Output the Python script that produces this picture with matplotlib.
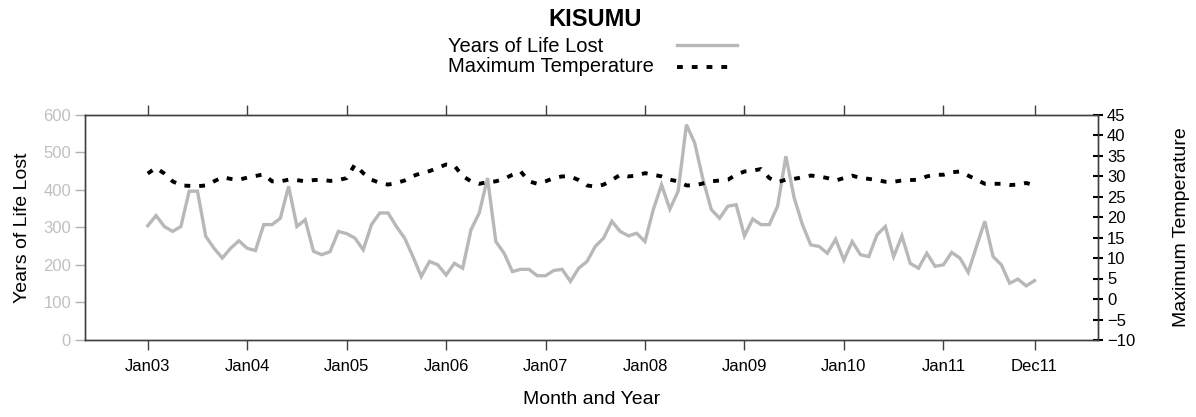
import matplotlib
matplotlib.use("Agg")
import matplotlib.pyplot as plt
from matplotlib.lines import Line2D
import numpy as np

plt.rcParams['font.family'] = ['Liberation Sans', 'DejaVu Sans']

# Monthly series Jan 2003 - Dec 2011
yll = [304, 331, 302, 289, 302, 396, 396, 276, 244, 218, 244, 264,
       244, 238, 307, 307, 324, 409, 302, 320, 236, 227, 235, 289,
       283, 271, 240, 307, 338, 338, 302, 271, 222, 169, 209, 200,
       173, 204, 191, 293, 338, 431, 262, 231, 182, 188, 188, 171,
       171, 185, 188, 156, 191, 209, 249, 271, 316, 289, 277, 284,
       262, 347, 413, 348, 396, 573, 524, 427, 347, 324, 356, 360,
       277, 322, 307, 307, 356, 489, 378, 307, 253, 249, 231, 268,
       213, 262, 227, 222, 280, 302, 222, 277, 204, 191, 231, 196,
       200, 233, 218, 180, 249, 316, 222, 200, 151, 162, 144, 158]

tmax = [30.6, 32.0, 30.6, 28.7, 27.7, 27.6, 27.5, 27.7, 28.7, 29.7, 29.3, 29.1,
        29.6, 30.0, 30.4, 28.7, 28.7, 29.1, 29.0, 28.7, 29.0, 29.1, 28.8, 29.0,
        29.5, 32.8, 30.7, 29.1, 28.3, 27.9, 28.3, 28.9, 30.0, 30.7, 31.2, 32.0,
        32.8, 32.5, 30.0, 28.7, 28.1, 28.5, 28.7, 29.3, 30.3, 31.1, 28.7, 28.1,
        28.7, 29.5, 29.9, 29.9, 29.0, 27.7, 27.4, 27.9, 29.0, 30.3, 29.9, 30.1,
        30.7, 30.3, 29.9, 29.1, 28.7, 27.7, 27.7, 28.2, 28.7, 28.9, 29.1, 30.3,
        31.1, 31.3, 31.7, 29.5, 28.5, 29.1, 29.3, 29.7, 30.1, 29.9, 29.5, 28.9,
        29.5, 30.1, 29.5, 29.3, 29.0, 28.6, 28.6, 28.9, 29.0, 29.1, 29.9, 30.3,
        30.3, 30.9, 31.1, 30.1, 29.1, 28.1, 28.1, 28.1, 27.8, 27.9, 28.3, 27.7]

xtick_labels = ['Jan03', 'Jan04', 'Jan05', 'Jan06', 'Jan07', 'Jan08',
                'Jan09', 'Jan10', 'Jan11', 'Dec11']
xtick_months = [0, 12, 24, 36, 48, 60, 72, 84, 96, 107]

W, H = 1196, 417
fig = plt.figure(figsize=(W / 100, H / 100), dpi=100)
L, R, T, B = 85, 1098, 114.5, 340
ax = fig.add_axes([L / W, 1 - B / H, (R - L) / W, (B - T) / H])

months = np.arange(len(yll))
ax.plot(months, yll, color='#b8b8b8', lw=2.4, solid_joinstyle='miter', zorder=2)
ax.set_xlim(-7.57, 114.66)
ax.set_ylim(0, 600)

spine_col = '#404040'
for s in ax.spines.values():
    s.set_color(spine_col)
    s.set_linewidth(1.0)

ax.set_xticks(xtick_months)
ax.set_xticklabels(xtick_labels, fontsize=12)
ax.tick_params(axis='x', direction='out', length=7, width=1, color=spine_col,
               top=True, labeltop=False, pad=7)
ax.set_yticks(range(0, 601, 100))
ax.tick_params(axis='y', direction='out', length=7, width=1, color='#b0b0b0',
               labelcolor='#c0c0c0', labelsize=12, pad=3)
ax.set_ylabel('Years of Life Lost', fontsize=14, labelpad=9)
ax.set_xlabel('Month and Year', fontsize=14, labelpad=12)

dash = (0, (1.5, 2.3))
ax2 = ax.twinx()
ax2.plot(months, tmax, color='black', lw=2.8, linestyle=dash, zorder=3)
ax2.set_ylim(-10, 45)
ax2.set_yticks(range(-10, 46, 5))
ax2.tick_params(axis='y', direction='inout', length=7, width=1.5, color='black',
                labelsize=12, pad=3)
for s in ax2.spines.values():
    s.set_color(spine_col)
    s.set_linewidth(1.0)
ax2.set_ylabel('Maximum Temperature', fontsize=14, labelpad=27)

# Title and legend
fig.text(595 / W, 1 - 20 / H, 'KISUMU', fontsize=17, fontweight='bold',
         ha='center', va='center')
fig.text(448 / W, 1 - 46 / H, 'Years of Life Lost', fontsize=14.5,
         ha='left', va='center')
fig.text(448 / W, 1 - 67 / H, 'Maximum Temperature', fontsize=14.5,
         ha='left', va='center')
fig.add_artist(Line2D([677 / W, 737 / W], [1 - 45 / H, 1 - 45 / H],
                      color='#b8b8b8', lw=2.4, transform=fig.transFigure))
fig.add_artist(Line2D([677 / W, 729 / W], [1 - 67 / H, 1 - 67 / H],
                      color='black', lw=2.8, linestyle=dash,
                      transform=fig.transFigure))

fig.savefig('out.png', dpi=100)
